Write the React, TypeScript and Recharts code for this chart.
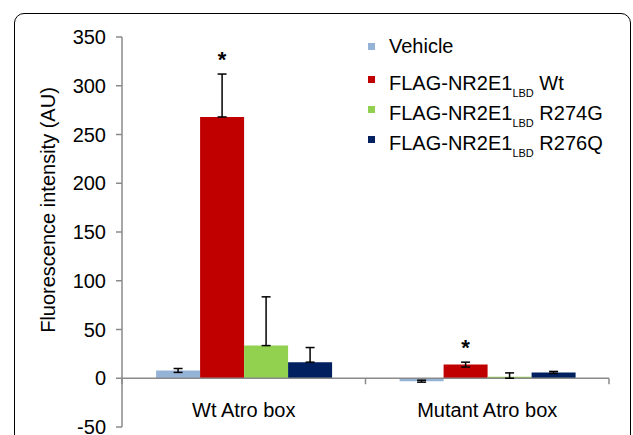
import React from 'react';
import { BarChart, Bar, XAxis, YAxis, ErrorBar, ReferenceLine, Legend, LabelList } from 'recharts';

const categories = ['Wt Atro box', 'Mutant Atro box'];
const vehicleValues = [8, -3];
const wtValues = [268, 14];
const r274gValues = [33.5, 1.5];
const r276qValues = [16.5, 6];
const vehicleErrors = [[2, 2], [1, 1]];
const wtErrors = [[0, 44], [2.5, 2.5]];
const r274gErrors = [[0, 50], [1.5, 4]];
const r276qErrors = [[0, 15], [1, 1]];
const significance = ['*', '*'];
const yTicks = [-50, 0, 50, 100, 150, 200, 250, 300, 350];
const seriesKeys = ['vehicle', 'wt', 'r274g', 'r276q'];
const seriesLabels = [
  ['Vehicle', '', ''],
  ['FLAG-NR2E1', 'LBD', ' Wt'],
  ['FLAG-NR2E1', 'LBD', ' R274G'],
  ['FLAG-NR2E1', 'LBD', ' R276Q'],
];
const seriesColors = ['#95B3D7', '#C00000', '#92D050', '#002060'];

const data = categories.map((category, i) => ({
  category,
  vehicle: vehicleValues[i],
  vehicleErr: vehicleErrors[i],
  wt: wtValues[i],
  wtErr: wtErrors[i],
  r274g: r274gValues[i],
  r274gErr: r274gErrors[i],
  r276q: r276qValues[i],
  r276qErr: r276qErrors[i],
}));

const FONT = '"Liberation Sans", Arial, sans-serif';
const AXIS = '#8a8a8a';

const StarLabel = (props: any) => {
  const vb = props.viewBox || props;
  const x = vb.x ?? props.x;
  const y = vb.y ?? props.y;
  const width = vb.width ?? props.width;
  const height = vb.height ?? props.height;
  const { value, index } = props;
  const mark = significance[index];
  if (!mark || !value) return null;
  const pxPerUnit = height / value;
  const errTop = y - wtErrors[index][1] * pxPerUnit;
  return (
    <text x={x + width / 2} y={errTop - 7} textAnchor="middle" fontSize={22} fontWeight="bold" fontFamily={FONT} fill="#000">
      {mark}
    </text>
  );
};

const ZeroAxis = (props: any) => {
  const { x1, y1, x2, y2 } = props;
  const mid = (x1 + x2) / 2;
  return (
    <g>
      <line x1={x1} y1={y1} x2={x2} y2={y2} stroke={AXIS} strokeWidth={1.5} />
      {[x1, mid, x2].map((x: number, i: number) => (
        <line key={i} x1={x} x2={x} y1={y1} y2={y1 + 6} stroke={AXIS} strokeWidth={1.5} />
      ))}
    </g>
  );
};

const CategoryTick = (props: any) => {
  const { x, y, payload } = props;
  return (
    <text x={x} y={y - 10} textAnchor="middle" fontSize={20} fontFamily={FONT} fill="#000">
      {payload.value}
    </text>
  );
};

const YTitle = () => (
  <text x={48} y={210} transform="rotate(-90 48 210)" textAnchor="middle" dominantBaseline="central" fontSize={20} fontFamily={FONT} fill="#000">
    Fluorescence intensity (AU)
  </text>
);

const rowCenters = [25.5, 62.5, 92.5, 122.5];

const LegendContent = () => (
  <div style={{ position: 'relative', width: 270, height: 140, fontFamily: FONT, fontSize: 20, color: '#000' }}>
    {seriesLabels.map((lab, i) => {
      const cy = rowCenters[i];
      const hasSub = lab[1] !== '';
      return (
        <React.Fragment key={seriesKeys[i]}>
          <div style={{ position: 'absolute', left: 8, top: cy - 3.5 + (hasSub ? -3 : 1), width: 7, height: 7, background: seriesColors[i] }} />
          <div style={{ position: 'absolute', left: 29, top: cy - 12, lineHeight: '24px', whiteSpace: 'nowrap' }}>
            {lab[0]}
            {hasSub && <span style={{ fontSize: 11, position: 'relative', top: 7 }}>{lab[1]}</span>}
            {lab[2]}
          </div>
        </React.Fragment>
      );
    })}
  </div>
);

export default function App() {
  return (
    <div style={{ position: 'absolute', left: 0, top: 0, width: 633, height: 435, overflow: 'hidden', background: '#fff' }}>
      <div style={{ position: 'absolute', left: 14, top: 13, width: 617, height: 460, border: '1.5px solid #000', borderRadius: 10, boxSizing: 'border-box' }} />
      <BarChart
        width={633}
        height={435}
        data={data}
        margin={{ top: 37, right: 24, bottom: 0, left: 0 }}
        barCategoryGap="14%"
        barGap={0}
        style={{ fontFamily: FONT }}
      >
        <XAxis dataKey="category" axisLine={false} tickLine={false} height={8} tickSize={0} tickMargin={0} interval={0} tick={<CategoryTick />} />
        <YAxis
          width={122}
          domain={[-50, 350]}
          ticks={yTicks}
          interval={0}
          allowDataOverflow
          stroke={AXIS}
          tickSize={6}
          tickMargin={10}
          tick={{ fontSize: 20, fill: '#000', fontFamily: FONT }}
          axisLine={{ stroke: AXIS, strokeWidth: 1.5 }}
          tickLine={{ stroke: AXIS, strokeWidth: 1.5 }}
          label={YTitle}
        />
        <ReferenceLine y={0} shape={ZeroAxis} />
        {seriesKeys.map((k, i) => (
          <Bar key={k} dataKey={k} fill={seriesColors[i]} isAnimationActive={false}>
            <ErrorBar dataKey={`${k}Err`} width={4.5} stroke="#000" strokeWidth={1.5} />
            {k === 'wt' && <LabelList dataKey="wt" content={StarLabel} />}
          </Bar>
        ))}
        <Legend
          layout="vertical"
          align="center"
          verticalAlign="middle"
          content={<LegendContent />}
          wrapperStyle={{ left: 360, top: 20, width: 270, height: 140 }}
        />
      </BarChart>
    </div>
  );
}
